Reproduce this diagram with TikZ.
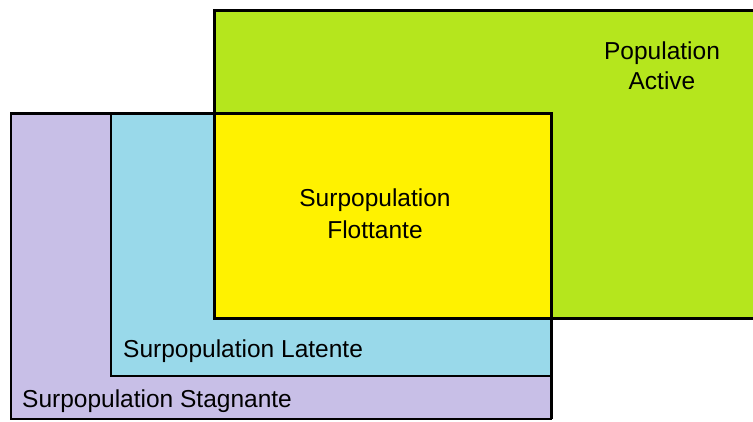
\documentclass[tikz,border=0pt]{standalone}
\usepackage{fontspec}
\setmainfont{Liberation Sans}
\definecolor{activegreen}{HTML}{B5E61D}
\definecolor{floatyellow}{HTML}{FFF200}
\definecolor{latentblue}{HTML}{99D9EA}
\definecolor{stagnantpurple}{HTML}{C8BFE7}
\begin{document}
\begin{tikzpicture}[x=1pt,y=-1pt,
  label/.style={inner sep=0pt, align=center, font=\fontsize{24.5}{30}\selectfont}]
  \useasboundingbox[fill=white] (0,0) rectangle (753,421);
  \begin{scope}
    \clip (0,0) rectangle (753,421);
    % stagnant surplus population (outermost, bottom left)
    \fill[stagnantpurple] (11,113) rectangle (551,419);
    \draw[line width=2pt] (11,113) rectangle (551,419);
    % latent surplus population
    \fill[latentblue] (111,113) rectangle (551,376);
    \draw[line width=1.3pt] (111,113) rectangle (551,376);
    % active population (extends past the right edge)
    \fill[activegreen] (214,10) rectangle (780,318);
    \draw[line width=3pt] (214,10) rectangle (780,318);
    % floating surplus population (overlap)
    \fill[floatyellow] (214,113) rectangle (551,318);
    \draw[line width=3pt] (214,113) rectangle (551,318);
    % heavy top edge of the surplus block
    \draw[line width=3pt] (11,113) -- (214,113);
    \draw[line width=3pt] (551,318) -- (551,419);
  \end{scope}
  \node[label] (active) at (662,66) {Population\\Active};
  \node[label, font=\fontsize{24.5}{32}\selectfont] (floating) at (375,214) {Surpopulation\\Flottante};
  \node[label, anchor=base west] (latent) at (123,357) {Surpopulation Latente};
  \node[label, anchor=base west] (stagnant) at (22,407) {Surpopulation Stagnante};
\end{tikzpicture}
\end{document}
